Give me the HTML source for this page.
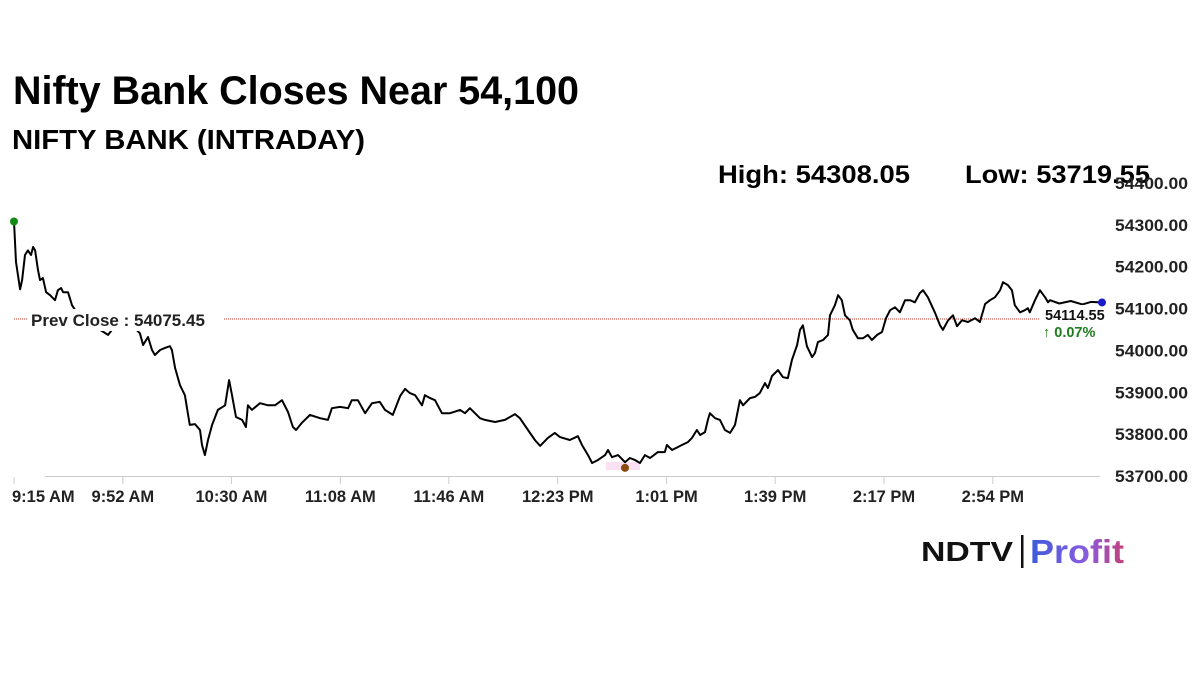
<!DOCTYPE html>
<html><head><meta charset="utf-8"><style>
html,body{margin:0;padding:0;background:#fff;width:1200px;height:675px;overflow:hidden}
svg{display:block}
text{font-family:"Liberation Sans",Arial,sans-serif}
</style></head><body>
<svg id="chart" width="1200" height="675" viewBox="0 0 1200 675" xmlns="http://www.w3.org/2000/svg">
<defs><linearGradient id="pg" x1="0" x2="1"><stop offset="0" stop-color="#3b5bdb"/><stop offset="0.6" stop-color="#8a5ce0"/><stop offset="1" stop-color="#c2407a"/></linearGradient></defs>
<text x="13" y="104" font-size="40" font-weight="bold" textLength="566" lengthAdjust="spacingAndGlyphs">Nifty Bank Closes Near 54,100</text>
<text x="12" y="149" font-size="28" font-weight="bold" textLength="353" lengthAdjust="spacingAndGlyphs">NIFTY BANK (INTRADAY)</text>
<text x="718" y="183" font-size="25" font-weight="bold" textLength="192" lengthAdjust="spacingAndGlyphs">High: 54308.05</text>
<text x="965" y="183" font-size="25" font-weight="bold" textLength="185" lengthAdjust="spacingAndGlyphs">Low: 53719.55</text>
<g id="yaxis"></g>
<g id="xaxis"></g>
<line x1="14" x2="1040" y1="319" y2="319" stroke="#c0392b" stroke-width="1" stroke-dasharray="1,1"/>
<rect x="606" y="462" width="34" height="8" fill="#fbe0f3"/>
<g id="series"></g>
<rect x="28" y="309" width="196" height="22" fill="#fff"/>
<text x="31" y="326" font-size="17" font-weight="bold" fill="#222">Prev Close : 54075.45</text>
<rect x="1042" y="305" width="56" height="15" fill="#fff"/>
<text x="1045" y="320" font-size="14.5" font-weight="bold" fill="#111">54114.55</text>
<text x="1043" y="337" font-size="14.5" font-weight="bold" fill="#1e7d1e">↑ 0.07%</text>
<g>
<text x="921" y="561" font-size="28" font-weight="bold" fill="#111" textLength="92" lengthAdjust="spacingAndGlyphs">NDTV</text>
<rect x="1021" y="535" width="2.5" height="33" fill="#111"/>
<text x="1030" y="563" font-size="33" font-weight="bold" fill="url(#pg)" textLength="94" lengthAdjust="spacingAndGlyphs">Profit</text>
</g>
</svg>
<script>
const yTicks=[53700,53800,53900,54000,54100,54200,54300,54400];
const xTickLabels=["9:15 AM","9:52 AM","10:30 AM","11:08 AM","11:46 AM","12:23 PM","1:01 PM","1:39 PM","2:17 PM","2:54 PM"];
const xTickMinutes=[0,37.7,75.3,113,150.6,188.3,226,263.6,301.3,339];
const minutes=[0,0.7,2.1,2.8,3.8,4.8,5.9,6.6,7.3,8.3,9.0,10.0,11.1,12.5,14.2,15.2,16.3,17.0,18.7,20.1,24.6,29.8,32.6,33.9,36.7,41.9,43.6,44.7,46.4,47.8,48.8,50.6,52.3,54.0,54.7,55.8,57.5,59.2,60.3,60.9,62.7,64.4,65.1,66.1,67.2,68.6,70.6,73.1,74.5,75.5,76.9,79.0,80.3,81.0,82.4,85.2,88.0,90.4,92.8,94.9,96.6,97.7,99.7,102.5,106.0,108.7,110.1,112.9,115.7,117.0,119.1,121.6,124.0,126.7,128.5,131.2,133.7,135.4,137.1,138.9,141.3,142.3,144.1,145.8,148.2,151.0,154.5,156.2,157.9,161.4,163.1,166.6,170.0,173.5,175.2,178.0,180.4,182.2,184.9,187.3,189.1,192.5,195.3,196.7,198.8,200.2,202.2,204.7,205.7,207.1,209.2,211.6,213.3,215.1,216.8,218.5,220.3,223.0,225.4,226.1,227.9,231.3,233.4,234.8,236.5,237.6,239.3,240.3,241.0,242.8,244.5,246.2,248.0,249.7,251.4,252.5,254.9,256.6,258.3,260.1,261.1,262.5,264.6,266.3,268.0,269.4,271.2,272.2,273.2,274.6,276.4,277.4,278.4,280.2,281.9,282.6,284.3,285.4,286.7,287.8,289.5,290.5,292.3,294.0,295.7,297.1,298.9,300.6,302.0,303.4,305.1,306.8,308.6,310.3,312.0,313.7,314.8,316.5,318.9,320.7,321.7,323.5,325.2,326.6,328.3,330.4,332.8,334.5,336.3,338.0,339.7,341.5,342.5,344.2,345.6,346.6,348.4,350.1,351.1,351.8,353.6,355.3,357.1,358.1,358.8,362,366,370,373,376.8];
const prices=[54308,54211,54146,54168,54228,54239,54228,54247,54239,54192,54168,54173,54139,54132,54120,54144,54149,54139,54139,54108,54060,54049,54037,54049,54049,54053,54041,54013,54032,54001,53989,54001,54006,54010,54001,53958,53917,53893,53846,53822,53824,53810,53774,53750,53786,53822,53858,53869,53929,53893,53841,53834,53817,53869,53858,53874,53869,53869,53881,53853,53817,53810,53827,53846,53838,53834,53862,53865,53862,53881,53881,53850,53874,53877,53858,53846,53891,53908,53898,53893,53869,53893,53886,53881,53850,53850,53858,53850,53862,53838,53834,53829,53834,53848,53838,53810,53786,53772,53791,53803,53793,53786,53795,53774,53750,53731,53738,53750,53762,53745,53750,53733,53743,53738,53731,53750,53743,53757,53757,53774,53762,53774,53781,53791,53810,53798,53805,53834,53850,53838,53834,53810,53803,53822,53881,53869,53886,53889,53898,53922,53910,53939,53953,53936,53934,53977,54013,54049,54060,54010,53984,53994,54020,54025,54037,54084,54108,54132,54120,54084,54072,54049,54029,54029,54037,54025,54037,54044,54077,54096,54103,54091,54120,54120,54115,54137,54144,54127,54091,54060,54049,54072,54084,54058,54072,54068,54077,54068,54111,54120,54127,54144,54163,54156,54144,54108,54091,54096,54101,54091,54120,54144,54127,54115,54120,54112,54118,54110,54116,54114.55];
const NS="http://www.w3.org/2000/svg";
const xS=m=>14+(m/376.8)*1088;
const yS=v=>476-(v-53700)*(293/700);
const ya=document.getElementById('yaxis'),xa=document.getElementById('xaxis'),se=document.getElementById('series');
yTicks.forEach(v=>{const t=document.createElementNS(NS,'text');


t.setAttribute('x',1115);t.setAttribute('y',yS(v)+6);t.setAttribute('font-size','16.5');t.setAttribute('font-weight','bold');t.setAttribute('fill','#222');
t.setAttribute('textLength','73');t.setAttribute('lengthAdjust','spacingAndGlyphs');
t.textContent=v.toFixed(2);ya.appendChild(t);});
const ax=document.createElementNS(NS,'line');


ax.setAttribute('x1',45);ax.setAttribute('x2',1100);ax.setAttribute('y1',476.5);ax.setAttribute('y2',476.5);ax.setAttribute('stroke','#ccc');xa.appendChild(ax);
xTickLabels.forEach((l,i)=>{const x=xS(xTickMinutes[i]);
const tk=document.createElementNS(NS,'line');


tk.setAttribute('x1',x);tk.setAttribute('x2',x);tk.setAttribute('y1',477);tk.setAttribute('y2',484);tk.setAttribute('stroke','#ccc');xa.appendChild(tk);
const t=document.createElementNS(NS,'text');


t.setAttribute('x',i===0?12:x);t.setAttribute('y',502);t.setAttribute('text-anchor',i===0?'start':'middle');t.setAttribute('font-size','16.5');t.setAttribute('font-weight','bold');t.setAttribute('fill','#222');
t.textContent=l;xa.appendChild(t);});
const p=document.createElementNS(NS,'path');


p.setAttribute('d',minutes.map((m,i)=>(i?'L':'M')+xS(m).toFixed(1)+','+yS(prices[i]).toFixed(1)).join(''));
p.setAttribute('fill','none');p.setAttribute('stroke','#000');p.setAttribute('stroke-width','2');p.setAttribute('stroke-linejoin','round');se.appendChild(p);
function dot(name,m,v,c){const d=document.createElementNS(NS,'circle');


d.setAttribute('cx',xS(m));d.setAttribute('cy',yS(v));d.setAttribute('r',4);d.setAttribute('fill',c);se.appendChild(d);}
dot('open-marker',minutes[0],prices[0],'#138a13');
dot('low-marker',211.6,53719.55,'#8b4a0f');
dot('close-marker',minutes[minutes.length-1],prices[prices.length-1],'#1a1acc');
</script>
</body></html>
